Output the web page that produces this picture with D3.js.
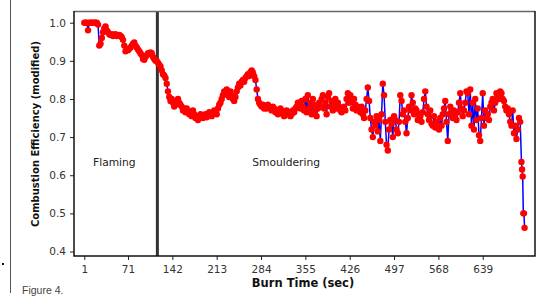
<!DOCTYPE html>
<html>
<head>
<meta charset="utf-8">
<script src="https://cdn.jsdelivr.net/npm/d3@7"></script>
<style>
  body { margin: 0; background: #fff; }
  svg { display: block; }
</style>
</head>
<body>
<svg id="chart" width="558" height="297"></svg>
<script>
// combustion efficiency, read every 2 s from t = 1 to t = 699
const ceValues = [
  1.0,1.0,1.0,0.98,1.0,1.0,1.0,1.0,1.0,1.0,
  1.0,0.995,0.94,0.945,0.96,0.975,0.985,0.99,0.98,0.975,
  0.97,0.968,0.97,0.965,0.968,0.97,0.965,0.966,0.968,0.965,
  0.962,0.955,0.94,0.925,0.93,0.928,0.932,0.935,0.94,0.945,
  0.948,0.94,0.935,0.93,0.925,0.92,0.915,0.905,0.903,0.91,
  0.915,0.92,0.918,0.922,0.92,0.91,0.905,0.9,0.9,0.895,
  0.89,0.885,0.875,0.865,0.862,0.855,0.84,0.82,0.805,0.795,
  0.8,0.79,0.78,0.785,0.795,0.8,0.79,0.785,0.78,0.77,
  0.775,0.765,0.775,0.77,0.76,0.765,0.755,0.77,0.76,0.75,
  0.755,0.745,0.75,0.76,0.755,0.75,0.755,0.76,0.752,0.757,
  0.765,0.76,0.755,0.762,0.77,0.765,0.76,0.775,0.785,0.79,
  0.8,0.81,0.82,0.815,0.825,0.81,0.805,0.82,0.81,0.8,
  0.795,0.805,0.82,0.83,0.84,0.835,0.845,0.85,0.845,0.855,
  0.86,0.865,0.86,0.87,0.875,0.87,0.86,0.85,0.825,0.8,
  0.79,0.785,0.78,0.785,0.775,0.78,0.775,0.785,0.78,0.775,
  0.77,0.78,0.775,0.765,0.77,0.76,0.765,0.775,0.77,0.76,
  0.755,0.765,0.77,0.76,0.765,0.755,0.76,0.77,0.765,0.775,
  0.78,0.79,0.785,0.775,0.795,0.78,0.77,0.8,0.765,0.81,
  0.775,0.79,0.76,0.8,0.785,0.77,0.755,0.775,0.79,0.78,
  0.8,0.81,0.775,0.79,0.76,0.805,0.815,0.78,0.795,0.77,
  0.785,0.8,0.775,0.79,0.78,0.77,0.765,0.775,0.78,0.77,
  0.8,0.815,0.79,0.81,0.795,0.775,0.8,0.785,0.77,0.78,
  0.775,0.765,0.78,0.76,0.75,0.77,0.8,0.83,0.795,0.75,
  0.72,0.7,0.74,0.73,0.755,0.715,0.745,0.69,0.76,0.84,
  0.81,0.74,0.68,0.665,0.72,0.745,0.735,0.7,0.755,0.745,
  0.72,0.71,0.74,0.81,0.795,0.76,0.77,0.74,0.71,0.75,
  0.78,0.77,0.81,0.79,0.76,0.775,0.77,0.745,0.76,0.755,
  0.74,0.765,0.8,0.82,0.78,0.76,0.745,0.77,0.735,0.73,
  0.755,0.725,0.74,0.73,0.72,0.75,0.73,0.76,0.775,0.795,
  0.74,0.69,0.76,0.78,0.77,0.75,0.77,0.76,0.745,0.765,
  0.79,0.815,0.775,0.755,0.77,0.79,0.82,0.815,0.76,0.825,
  0.73,0.79,0.72,0.8,0.745,0.775,0.705,0.69,0.75,0.815,
  0.73,0.77,0.75,0.76,0.745,0.78,0.79,0.8,0.77,0.79,
  0.815,0.805,0.8,0.82,0.815,0.8,0.795,0.78,0.77,0.775,
  0.76,0.74,0.73,0.77,0.71,0.73,0.695,0.72,0.75,0.74
];
// final collapse, read every second
const tailTimes = [701, 702, 703, 704, 705, 706];
const tailValues = [0.635, 0.615, 0.597, 0.5, 0.5, 0.462];

const xTickValues = [1, 71, 142, 213, 284, 355, 426, 497, 568, 639];
const yTickValues = [0.4, 0.5, 0.6, 0.7, 0.8, 0.9, 1.0];
const phaseLabels = [
  { text: "Flaming", time: 15, value: 0.625 },
  { text: "Smouldering", time: 270, value: 0.625 }
];
const phaseChange = 118;

const burnTimes = ceValues.map((v, i) => 1 + 2 * i).concat(tailTimes);
const ceAll = ceValues.concat(tailValues);
const points = burnTimes.map((t, i) => ({ t: t, v: ceAll[i] }));

const svg = d3.select("#chart");
const frame = { left: 74, right: 535, top: 11, bottom: 256 };

const x = d3.scaleLinear().domain([-15.5, 722.7]).range([frame.left, frame.right]);
const y = d3.scaleLinear().domain([0.3882, 1.0307]).range([frame.bottom, frame.top]);

svg.append("rect").attr("width", 558).attr("height", 297).attr("fill", "#fff");

// page border and stray mark on the left
svg.append("line")
  .attr("x1", 10.5).attr("x2", 10.5).attr("y1", 0).attr("y2", 293)
  .attr("stroke", "#555").attr("stroke-width", 1);
svg.append("rect").attr("x", 2).attr("y", 263).attr("width", 2).attr("height", 2).attr("fill", "#111");

svg.append("text")
  .attr("x", 22).attr("y", 294)
  .attr("font-family", "Liberation Sans, Arial, sans-serif")
  .attr("font-size", 10.5)
  .attr("fill", "#444")
  .text("Figure 4.");

// axes
const xAxis = d3.axisBottom(x).tickValues(xTickValues).tickSize(4).tickPadding(5.5);
const yAxis = d3.axisLeft(y).tickValues(yTickValues).tickSize(4).tickPadding(4)
  .tickFormat(d3.format(".1f"));

const gx = svg.append("g").attr("transform", `translate(0,${frame.bottom})`).call(xAxis);
const gy = svg.append("g").attr("transform", `translate(${frame.left},0)`).call(yAxis);
[gx, gy].forEach(g => {
  g.select(".domain").remove();
  g.selectAll(".tick line").attr("stroke", "#222");
  g.selectAll(".tick text")
    .attr("font-family", "DejaVu Sans, Verdana, sans-serif")
    .attr("font-size", 10.5)
    .attr("fill", "#333");
});

// divider between phases
svg.append("line")
  .attr("x1", x(phaseChange)).attr("x2", x(phaseChange))
  .attr("y1", frame.top).attr("y2", frame.bottom)
  .attr("stroke", "#333").attr("stroke-width", 3);

// series
const line = d3.line().x(d => x(d.t)).y(d => y(d.v));
svg.append("path")
  .datum(points)
  .attr("fill", "none")
  .attr("stroke", "#0000ff")
  .attr("stroke-width", 1.5)
  .attr("d", line);

svg.append("g").selectAll("circle")
  .data(points)
  .enter().append("circle")
  .attr("cx", d => x(d.t))
  .attr("cy", d => y(d.v))
  .attr("r", 3.2)
  .attr("fill", "#ff0000");

svg.append("g").selectAll("text")
  .data(phaseLabels)
  .enter().append("text")
  .attr("x", d => x(d.time))
  .attr("y", d => y(d.value))
  .attr("font-family", "DejaVu Sans, Verdana, sans-serif")
  .attr("font-size", 10.7)
  .attr("fill", "#222")
  .text(d => d.text);

// frame
svg.append("line")
  .attr("x1", frame.left).attr("x2", frame.right)
  .attr("y1", frame.top + 0.5).attr("y2", frame.top + 0.5)
  .attr("stroke", "#666").attr("stroke-width", 1.5);
svg.append("path")
  .attr("d", `M${frame.left},${frame.top}V${frame.bottom}H${frame.right}V${frame.top}`)
  .attr("fill", "none")
  .attr("stroke", "#111")
  .attr("stroke-width", 1.5);

// axis titles
svg.append("text")
  .attr("x", 303)
  .attr("y", 287)
  .attr("text-anchor", "middle")
  .attr("font-family", "DejaVu Sans, Verdana, sans-serif")
  .attr("font-weight", "bold")
  .attr("font-size", 11.5)
  .attr("fill", "#111")
  .text("Burn Time (sec)");

svg.append("text")
  .attr("transform", "translate(39,134) rotate(-90)")
  .attr("text-anchor", "middle")
  .attr("font-family", "DejaVu Sans, Verdana, sans-serif")
  .attr("font-weight", "bold")
  .attr("font-size", 10)
  .attr("fill", "#111")
  .text("Combustion Efficiency (modified)");
</script>
</body>
</html>
